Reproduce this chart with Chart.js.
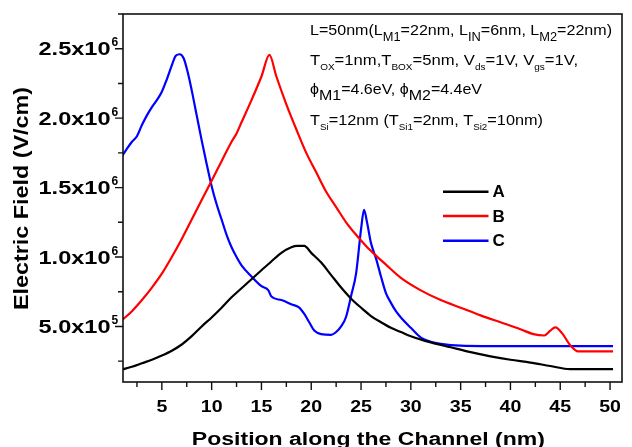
<!DOCTYPE html>
<html><head><meta charset="utf-8">
<script src="https://cdn.jsdelivr.net/npm/chart.js@4.4.0/dist/chart.umd.min.js"></script>
<style>html,body{margin:0;padding:0;background:#fff;}canvas{display:block;}</style>
</head><body>
<canvas id="c" width="632" height="447"></canvas>
<script>
// ---------- data ----------
const seriesNames  = ['A', 'B', 'C'];
const seriesColors = ['#000000', '#ff0000', '#0000ff'];

const posA   = [1,2,3,4,5,6,7,8,9,10,11,12,13,14,15,15.8,16.1,17,18,18.6,19.3,20,21,22,23,24,25,26,27,28,29,30,32,34,36,38,40,42,44,46,50.3];
const fieldA = [0.19e6,0.21e6,0.235e6,0.26e6,0.29e6,0.325e6,0.37e6,0.43e6,0.50e6,0.565e6,0.635e6,0.71e6,0.775e6,0.84e6,0.905e6,0.955e6,0.975e6,1.03e6,1.07e6,1.08e6,1.08e6,1.03e6,0.96e6,0.87e6,0.78e6,0.70e6,0.635e6,0.575e6,0.53e6,0.49e6,0.46e6,0.43e6,0.385e6,0.35e6,0.315e6,0.285e6,0.26e6,0.24e6,0.215e6,0.192e6,0.192e6];

const posB   = [1,2,3,4,5,6,7,8,9,10,11,12,12.5,13,14,15,15.8,16.5,17.5,18.5,19.5,20.5,21.5,22.5,23.5,24.5,25.5,26.5,27.5,29,31,33,35,37,39,41,42.3,43.4,44,44.5,45.2,46,46.8,50.3];
const fieldB = [0.545e6,0.61e6,0.69e6,0.78e6,0.88e6,1.0e6,1.13e6,1.27e6,1.41e6,1.55e6,1.69e6,1.83e6,1.89e6,1.97e6,2.13e6,2.30e6,2.455e6,2.30e6,2.10e6,1.92e6,1.75e6,1.61e6,1.47e6,1.36e6,1.25e6,1.16e6,1.08e6,1.01e6,0.945e6,0.85e6,0.76e6,0.69e6,0.635e6,0.58e6,0.53e6,0.48e6,0.445e6,0.435e6,0.47e6,0.493e6,0.45e6,0.365e6,0.32e6,0.32e6];

const posC   = [1,1.5,2,2.5,3,3.5,4,4.5,5,5.5,6,6.4,6.8,7.2,7.6,8,8.5,9,9.5,10,10.5,11,11.5,12,12.5,13,14,15,15.7,16,17,18,18.8,19.3,19.8,20.3,21,22,22.5,23,23.5,24,24.5,25,25.3,25.6,26,26.5,27,27.5,28,28.5,29,30,31,32,33,35,40,50.3];
const fieldC = [1.725e6,1.78e6,1.83e6,1.87e6,1.95e6,2.02e6,2.08e6,2.13e6,2.19e6,2.28e6,2.38e6,2.45e6,2.46e6,2.43e6,2.33e6,2.2e6,2.02e6,1.84e6,1.67e6,1.51e6,1.38e6,1.27e6,1.16e6,1.07e6,1.0e6,0.94e6,0.86e6,0.79e6,0.76e6,0.715e6,0.69e6,0.66e6,0.635e6,0.59e6,0.53e6,0.47e6,0.445e6,0.44e6,0.46e6,0.5e6,0.57e6,0.72e6,0.88e6,1.2e6,1.34e6,1.25e6,1.10e6,0.99e6,0.86e6,0.74e6,0.67e6,0.61e6,0.565e6,0.49e6,0.42e6,0.39e6,0.375e6,0.362e6,0.358e6,0.358e6];

const xMajorTicks = [5,10,15,20,25,30,35,40,45,50];
const xMinorTicks = [2.5,7.5,12.5,17.5,22.5,27.5,32.5,37.5,42.5,47.5];
const yMajorTicks = [0.5e6,1.0e6,1.5e6,2.0e6,2.5e6];
const yMinorTicks = [0.25e6,0.75e6,1.25e6,1.75e6,2.25e6,2.75e6];
const yTickMantissa = ['5.0','1.0','1.5','2.0','2.5'];
const yTickExponent = ['5','6','6','6','6'];

const xTitle = 'Position along the Channel (nm)';
const yTitle = 'Electric Field (V/cm)';

// ---------- helpers ----------
const FONT = '"Liberation Sans", Arial, sans-serif';
function drawFitted(ctx, text, x, y, font, width, align) {
  ctx.font = font;
  const w = ctx.measureText(text).width;
  const s = width ? width / w : 1;
  ctx.save();
  ctx.translate(x, y);
  ctx.scale(s, 1);
  ctx.textAlign = 'left';
  const x0 = align === 'center' ? -w / 2 : (align === 'right' ? -w : 0);
  ctx.fillText(text, x0, 0);
  ctx.restore();
}

// annotation: segment style 0=normal, 1=large subscript, 2=small subscript, 3=lowered normal
const segStyles = {
  0: {size: 15, dy: 0},
  1: {size: 12, dy: 6},
  2: {size: 9,  dy: 5},
  3: {size: 15, dy: 6}
};
const annotationLines = [
  {y: 35, width: 302, segs: [['L=50nm(L',0],['M1',1],['=22nm, L',0],['IN',1],['=6nm, L',0],['M2',1],['=22nm)',0]]},
  {y: 65, width: 268, segs: [['T',0],['OX',2],['=1nm,T',0],['BOX',2],['=5nm, V',0],['ds',2],['=1V, V',0],['gs',2],['=1V,',0]]},
  {y: 94, width: 172, segs: [['\u03D5',0],['M1',3],['=4.6eV, \u03D5',0],['M2',3],['=4.4eV',0]]},
  {y: 125, width: 233, segs: [['T',0],['Si',2],['=12nm (T',0],['Si1',2],['=2nm, T',0],['Si2',2],['=10nm)',0]]}
];

function drawRich(ctx, line, x) {
  let total = 0;
  for (const [t, st] of line.segs) {
    ctx.font = segStyles[st].size + 'px ' + FONT;
    total += ctx.measureText(t).width;
  }
  const s = line.width / total;
  ctx.save();
  ctx.translate(x, line.y);
  ctx.scale(s, 1);
  ctx.textAlign = 'left';
  ctx.textBaseline = 'alphabetic';
  let cx = 0;
  for (const [t, st] of line.segs) {
    ctx.font = segStyles[st].size + 'px ' + FONT;
    ctx.fillText(t, cx, segStyles[st].dy);
    cx += ctx.measureText(t).width;
  }
  ctx.restore();
}

const decorations = {
  id: 'decorations',
  afterDraw(chart) {
    const {ctx, chartArea: a} = chart;
    const xs = chart.scales.x, ys = chart.scales.y;
    ctx.save();
    ctx.strokeStyle = '#111';
    ctx.fillStyle = '#000';
    ctx.lineWidth = 1.6;
    ctx.strokeRect(a.left, a.top, a.right - a.left, a.bottom - a.top);
    ctx.lineWidth = 1.4;
    ctx.beginPath();
    xMajorTicks.forEach(v => { const p = xs.getPixelForValue(v); ctx.moveTo(p, a.bottom); ctx.lineTo(p, a.bottom + 8); });
    xMinorTicks.forEach(v => { const p = xs.getPixelForValue(v); ctx.moveTo(p, a.bottom); ctx.lineTo(p, a.bottom + 5); });
    yMajorTicks.forEach(v => { const p = ys.getPixelForValue(v); ctx.moveTo(a.left, p); ctx.lineTo(a.left - 8, p); });
    yMinorTicks.forEach(v => { const p = ys.getPixelForValue(v); ctx.moveTo(a.left, p); ctx.lineTo(a.left - 5, p); });
    ctx.stroke();

    // x tick labels
    ctx.textBaseline = 'alphabetic';
    xMajorTicks.forEach(v => {
      const p = xs.getPixelForValue(v);
      const txt = String(v);
      drawFitted(ctx, txt, p, 412, 'bold 17px ' + FONT, txt.length * 10.9, 'center');
    });
    // y tick labels
    yMajorTicks.forEach((v, i) => {
      const p = ys.getPixelForValue(v);
      drawFitted(ctx, yTickMantissa[i] + 'x10', 110.5, p + 6.5, 'bold 18px ' + FONT, 72, 'right');
      drawFitted(ctx, yTickExponent[i], 111.5, p - 2.5, 'bold 12px ' + FONT, 0, 'left');
    });
    // axis titles
    drawFitted(ctx, xTitle, (191.7 + 545) / 2, 445, 'bold 18px ' + FONT, 353, 'center');
    ctx.save();
    ctx.translate(28, 198.5);
    ctx.rotate(-Math.PI / 2);
    drawFitted(ctx, yTitle, 0, 0, 'bold 21px ' + FONT, 223, 'center');
    ctx.restore();

    // annotation
    annotationLines.forEach(l => drawRich(ctx, l, 310));

    // legend
    const legY = [191.7, 216, 240.7];
    chart.data.datasets.forEach((ds, i) => {
      ctx.strokeStyle = ds.borderColor;
      ctx.lineWidth = 2.6;
      ctx.beginPath();
      ctx.moveTo(443, legY[i]);
      ctx.lineTo(488.5, legY[i]);
      ctx.stroke();
      ctx.fillStyle = '#000';
      ctx.font = 'bold 17px ' + FONT;
      ctx.textBaseline = 'middle';
      ctx.textAlign = 'left';
      ctx.fillText(ds.label, 492.5, legY[i] + 1);
    });
    ctx.restore();
  }
};

function pts(xs, ys) { return xs.map((x, i) => ({x: x, y: ys[i]})); }

const allPos = [posA, posB, posC];
const allField = [fieldA, fieldB, fieldC];

new Chart(document.getElementById('c'), {
  type: 'line',
  data: {
    datasets: seriesNames.map((n, i) => ({
      label: n,
      data: pts(allPos[i], allField[i]),
      borderColor: seriesColors[i],
      backgroundColor: seriesColors[i],
      borderWidth: 2.2,
      pointRadius: 0,
      cubicInterpolationMode: 'monotone',
      fill: false
    }))
  },
  options: {
    responsive: false,
    animation: false,
    layout: {padding: {left: 0, right: 10, top: 14, bottom: 0}},
    plugins: {legend: {display: false}, tooltip: {enabled: false}},
    scales: {
      x: {
        type: 'linear', min: 1.1, max: 51.2,
        grid: {display: false}, border: {display: false},
        ticks: {display: false},
        afterFit(s) { s.height = 65; }
      },
      y: {
        type: 'linear', min: 1e5, max: 2.75e6,
        grid: {display: false}, border: {display: false},
        ticks: {display: false},
        afterFit(s) { s.width = 123; }
      }
    }
  },
  plugins: [decorations]
});
</script>
</body></html>
